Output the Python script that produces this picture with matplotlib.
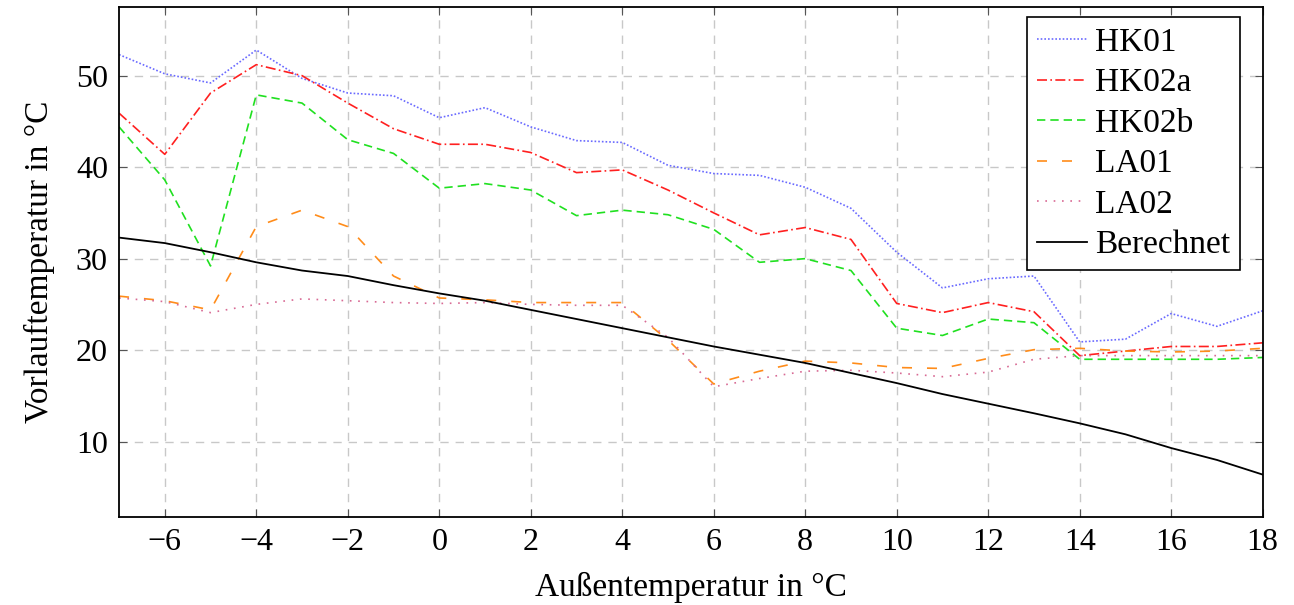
import matplotlib
matplotlib.use("Agg")
import matplotlib.pyplot as plt
import numpy as np

# Außentemperatur (x) and Vorlauftemperatur per circuit
outside_temp = list(range(-7, 19))

hk01 = [52.3, 50.2, 49.2, 52.8, 49.7, 48.1, 47.8, 45.4, 46.5, 44.4, 42.9, 42.7, 40.2,
        39.3, 39.1, 37.8, 35.5, 30.7, 26.8, 27.8, 28.1, 20.9, 21.2, 24.0, 22.6, 24.3]
hk02a = [45.9, 41.4, 48.1, 51.2, 50.0, 47.0, 44.2, 42.5, 42.5, 41.6, 39.4, 39.7, 37.5,
         35.0, 32.6, 33.4, 32.1, 25.1, 24.1, 25.2, 24.2, 19.4, 19.9, 20.4, 20.4, 20.8]
hk02b = [44.4, 38.6, 29.2, 47.9, 47.0, 43.0, 41.5, 37.7, 38.2, 37.5, 34.7, 35.3, 34.8,
         33.2, 29.6, 30.0, 28.7, 22.4, 21.6, 23.4, 23.0, 19.0, 19.0, 19.0, 19.0, 19.2]
la01 = [25.9, 25.4, 24.4, 33.5, 35.3, 33.5, 28.1, 25.7, 25.5, 25.2, 25.2, 25.2, 21.1,
        16.3, 17.7, 18.8, 18.6, 18.1, 18.0, 19.1, 20.05, 20.2, 19.9, 19.8, 19.9, 20.2]
la02 = [25.7, 25.3, 24.1, 25.0, 25.6, 25.4, 25.2, 25.1, 25.2, 25.0, 24.9, 24.9, 21.4,
        16.0, 16.9, 17.7, 17.8, 17.5, 17.1, 17.6, 19.0, 19.4, 19.4, 19.4, 19.4, 19.4]
berechnet = [32.3, 31.7, 30.7, 29.6, 28.7, 28.1, 27.1, 26.2, 25.4, 24.4, 23.4, 22.4, 21.4,
             20.4, 19.5, 18.6, 17.5, 16.4, 15.2, 14.15, 13.1, 12.0, 10.8, 9.3, 8.0, 6.4]

plt.rcParams["font.family"] = ["Liberation Serif", "DejaVu Serif"]
plt.rcParams["axes.unicode_minus"] = True

fig = plt.figure(figsize=(12.94, 6.05), dpi=100)
ax = fig.add_axes([0.092, 0.146, 0.8838, 0.8424])

lw = 1.2
ax.plot(outside_temp, hk01, color="#6a6aff", lw=lw, linestyle=(0, (1, 1.2)), label="HK01")
ax.plot(outside_temp, hk02a, color="#ff2020", lw=lw, linestyle=(0, (6, 2, 1, 2)), label="HK02a")
ax.plot(outside_temp, hk02b, color="#20e020", lw=lw, linestyle=(0, (5, 3)), label="HK02b")
ax.plot(outside_temp, la01, color="#ff8c1a", lw=lw, linestyle=(0, (6, 9)), label="LA01")
ax.plot(outside_temp, la02, color="#d86a94", lw=lw, linestyle=(0, (1, 4)), label="LA02")
ax.plot(outside_temp, berechnet, color="black", lw=1.3, label="Berechnet")

ax.set_xlim(-7, 18)
ax.set_ylim(1.8, 57.5)
ax.set_xticks(np.arange(-6, 19, 2))
ax.set_yticks([10, 20, 30, 40, 50])
ax.grid(True, color="#c8c8c8", linestyle=(0, (6, 5)), lw=1.0)
ax.tick_params(direction="in", top=True, right=True, length=6, width=0.8,
               color="#555555", labelsize=23, pad=8)
for s in ax.spines.values():
    s.set_linewidth(1.3)

ax.set_xlabel("Außentemperatur in °C", fontsize=24, labelpad=11)
ax.set_ylabel("Vorlauftemperatur in °C", fontsize=24, labelpad=15)

leg = ax.legend(loc="upper right", bbox_to_anchor=(0.9805, 0.98), fontsize=24,
                frameon=True, fancybox=False, edgecolor="black", framealpha=1,
                handlelength=1.5, handletextpad=0.25, labelspacing=0.3,
                borderpad=0.3, borderaxespad=0)
leg.get_frame().set_linewidth(1.2)

fig.savefig("out.png", dpi=100)
